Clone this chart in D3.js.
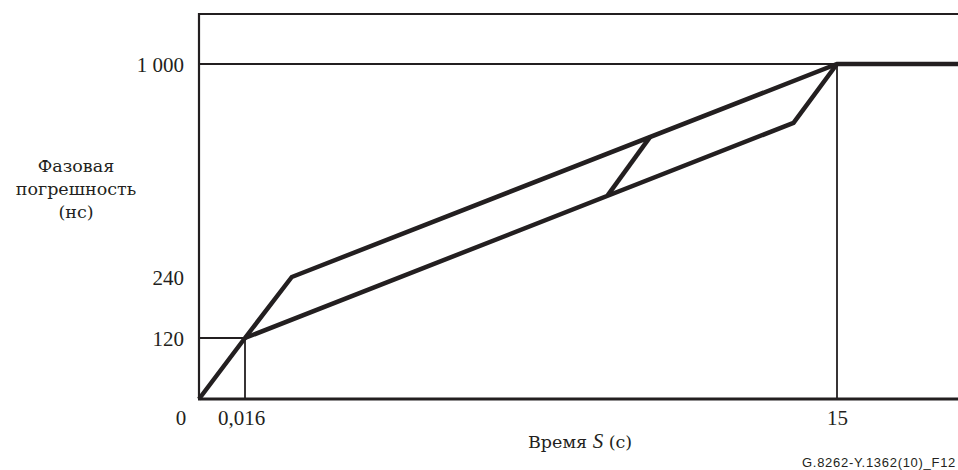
<!DOCTYPE html>
<html><head><meta charset="utf-8">
<script src="https://cdn.jsdelivr.net/npm/d3@7"></script>
<style>
html,body{margin:0;padding:0;background:#fff;}
svg{display:block;}
svg text.serif{font-family:'Liberation Serif','Times New Roman','DejaVu Serif',serif;font-size:21px;fill:#231f20;}
svg text.cyr{font-family:'DejaVu Serif',serif;font-size:17.5px;fill:#231f20;}
svg text.sans{font-family:'Liberation Sans','DejaVu Sans',Arial,sans-serif;fill:#231f20;}
</style></head>
<body>
<svg id="chart" width="958" height="470"></svg>
<script>
// ---- data ----
const xTickValues = [0.016, 15];
const xTickLabels = ["0,016", "15"];
const yTickValues = [120, 240, 1000];
const yTickLabels = ["120", "240", "1 000"];
// mask outline (time s, phase error ns)
const upperX = [0, 0.016, 1.2, 15, 18.1];
const upperY = [0, 120, 240, 1000, 1000];
const lowerX = [0.016, 13.9, 15];
const lowerY = [120, 790, 1000];
const innerX = [10.27, 9.2];
const innerY = [740, 532];
const guideX = [0.016, 15];
const guideY = [120, 1000];
const yLabelLines = ["Фазовая", "погрешность", "(нс)"];

const W = 958, H = 470;
const svg = d3.select("#chart");
const ink = "#231f20";

// schematic (non-proportional) scales
const x = d3.scaleLinear().domain([0, 0.016, 15, 18.1]).range([199, 245, 837, 958]);
const y = d3.scaleLinear().domain([0, 120, 240, 1000, 1178]).range([399, 338, 277, 64, 14]);

// frame: top and left
svg.append("line").attr("x1", x(0)).attr("x2", W).attr("y1", y(1178)).attr("y2", y(1178))
  .attr("stroke", ink).attr("stroke-width", 2.2);
svg.append("line").attr("x1", x(0)).attr("x2", x(0)).attr("y1", y(1178) - 1).attr("y2", y(0))
  .attr("stroke", ink).attr("stroke-width", 2.2);

// thin guides
svg.append("line").attr("x1", x(0)).attr("x2", W).attr("y1", y(1000)).attr("y2", y(1000))
  .attr("stroke", ink).attr("stroke-width", 1.8);
guideX.forEach((gx, i) => {
  svg.append("line").attr("x1", x(gx)).attr("x2", x(gx)).attr("y1", y(guideY[i])).attr("y2", y(0))
    .attr("stroke", ink).attr("stroke-width", 1.8);
});
svg.append("line").attr("x1", x(0)).attr("x2", x(guideX[0])).attr("y1", y(guideY[0])).attr("y2", y(guideY[0]))
  .attr("stroke", ink).attr("stroke-width", 1.8);

// bottom axis line
svg.append("line").attr("x1", x(0) - 1).attr("x2", W).attr("y1", y(0)).attr("y2", y(0))
  .attr("stroke", ink).attr("stroke-width", 3);

// mask lines
const line = d3.line().x(d => x(d[0])).y(d => y(d[1])).curve(d3.curveLinear);
const paths = [
  d3.zip(upperX, upperY),
  d3.zip(lowerX, lowerY),
  d3.zip(innerX, innerY)
];
svg.selectAll("path.mask").data(paths).join("path").attr("class", "mask")
  .attr("d", line).attr("fill", "none").attr("stroke", ink)
  .attr("stroke-width", 4.5).attr("stroke-linejoin", "miter").attr("stroke-linecap", "butt");

// y axis
const yAxis = d3.axisLeft(y).tickValues(yTickValues).tickSize(0).tickPadding(0)
  .tickFormat((d, i) => yTickLabels[i]);
const gy = svg.append("g").attr("transform", "translate(184,0)").call(yAxis)
  .attr("font-family", null).attr("font-size", null);
gy.select(".domain").remove();
gy.selectAll("text").attr("class", "serif").attr("fill", null).attr("dy", "0.35em");

// x axis
const xAxis = d3.axisBottom(x).tickValues(xTickValues).tickSize(0).tickPadding(0)
  .tickFormat((d, i) => xTickLabels[i]);
const gx = svg.append("g").attr("transform", "translate(0,425)").call(xAxis)
  .attr("font-family", null).attr("font-size", null);
gx.select(".domain").remove();
gx.selectAll("text").attr("class", "serif").attr("fill", null).attr("dy", "0").attr("y", 0);
gx.selectAll(".tick").filter(d => d === 0.016).select("text").attr("x", -4);

// origin label
svg.append("text").attr("class", "serif").attr("x", 181).attr("y", 425).attr("text-anchor", "middle").text("0");

// y label
svg.append("text").attr("class", "cyr").attr("text-anchor", "middle")
  .selectAll("tspan").data(yLabelLines).join("tspan")
  .attr("x", 76).attr("y", (d, i) => 172 + i * 23).text(d => d);

// x label
const xl = svg.append("text").attr("class", "cyr").attr("x", 528).attr("y", 448).attr("text-anchor", "start");
xl.append("tspan").text("Время ");
xl.append("tspan").attr("font-style", "italic").attr("font-family", "'Liberation Serif', serif").attr("font-size", 21).text("S");
xl.append("tspan").text(" (с)");

// figure id
svg.append("text").attr("class", "sans").attr("x", 956).attr("y", 467).attr("text-anchor", "end")
  .attr("font-size", 13).attr("letter-spacing", 0.7).text("G.8262-Y.1362(10)_F12");
</script>
</body></html>
